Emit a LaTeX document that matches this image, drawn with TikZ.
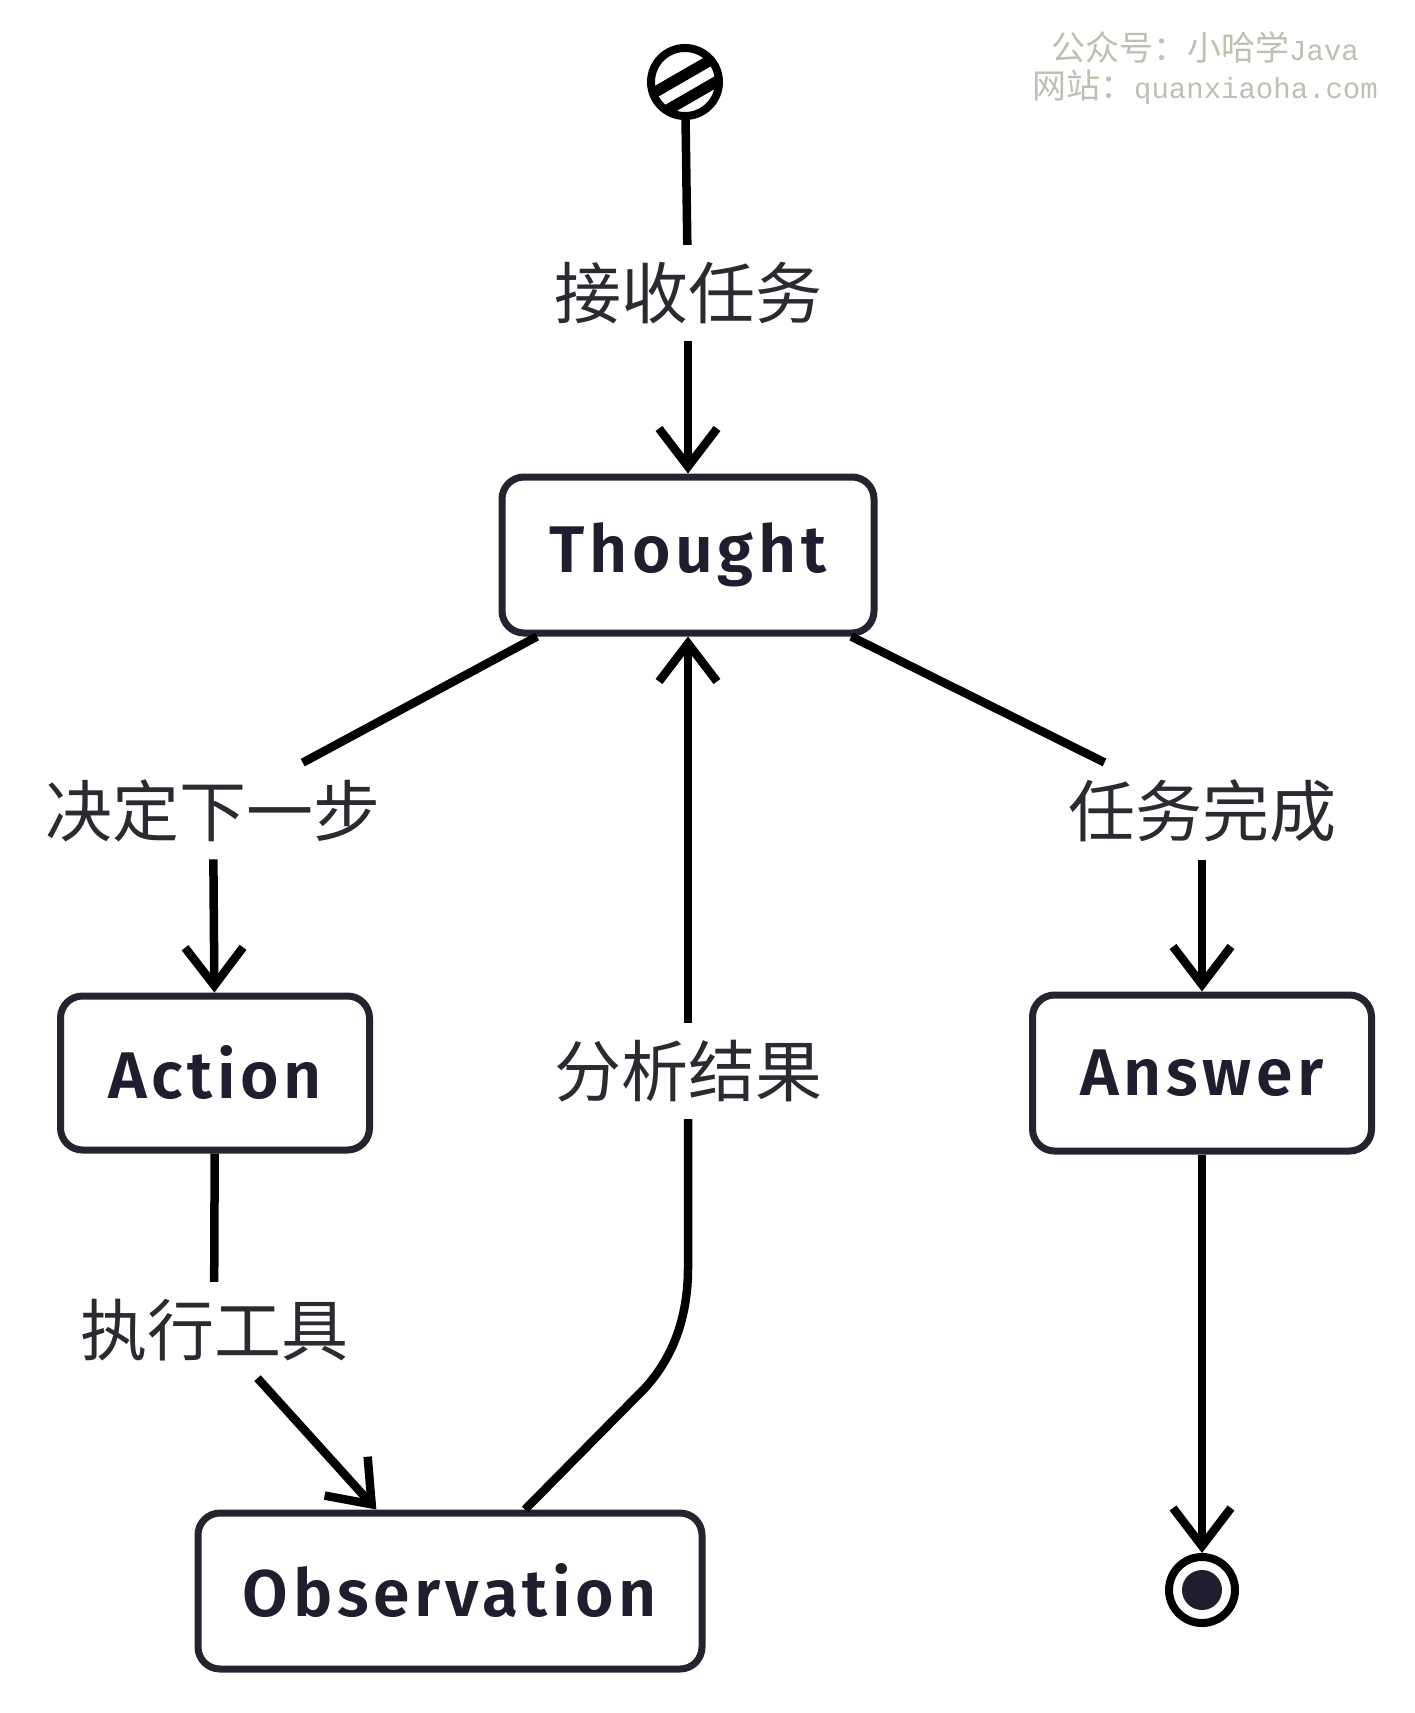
\documentclass[tikz,border=0pt]{standalone}
\usepackage{fontspec}
\usepackage{xcolor}
\usetikzlibrary{arrows.meta}
\newfontfamily\cjkfont{Noto Sans CJK SC}
\newfontfamily\wmlatin{Liberation Mono}
\newfontfamily\boxfont{Fira Sans SemiBold}[LetterSpace=7]
\definecolor{ink}{RGB}{30,30,46}
\definecolor{boxline}{RGB}{37,35,48}
\definecolor{labelgray}{RGB}{42,42,48}
\definecolor{wmgray}{RGB}{190,192,178}
\newcommand{\drawconn}{\draw[line width=8.5pt]}
\newcommand{\drawarrow}{\draw[line width=8.5pt,-{Straight Barb[length=38pt,width=58pt]}]}

\begin{document}
\begin{tikzpicture}[x=1pt,y=-1pt,
    stateBox/.style={draw=boxline,line width=7pt,rounded corners=22pt,fill=white,
      text=ink,font=\boxfont\fontsize{66}{70}\selectfont,inner sep=0pt},
    edgeLabel/.style={text=labelgray,font=\cjkfont\fontsize{67}{70}\selectfont,inner xsep=13pt,inner ysep=17pt}]
\useasboundingbox[fill=white] (0,0) rectangle (1415,1713);

    \node[stateBox,minimum width=372pt,minimum height=156pt] (thought) at (688,555) {Thought};
    \node[stateBox,minimum width=309pt,minimum height=154pt] (action) at (215,1073) {Action};
    \node[stateBox,minimum width=339pt,minimum height=156pt] (answer) at (1202,1073) {Answer};
    \node[stateBox,minimum width=504pt,minimum height=156pt] (obs) at (450,1591) {Observation};

    \node[edgeLabel] (lblTask) at (688,293) {接收任务};
    \node[edgeLabel] (lblNext) at (213,811) {决定下一步};
    \node[edgeLabel] (lblDone) at (1202,811) {任务完成};
    \node[edgeLabel] (lblExec) at (214,1330) {执行工具};
    \node[edgeLabel] (lblResult) at (688,1071) {分析结果};

    \node[circle,draw,line width=8pt,minimum size=68pt,inner sep=0pt,
      path picture={\foreach \p in {{-35pt,-38pt},{-47pt,-20pt}}
        \draw[line width=11pt] ([shift={(\p)}]path picture bounding box.center) -- ++(86.6pt,50pt);}] (start) at (685,82) {};
    \node[circle,draw,line width=8pt,minimum size=66pt,inner sep=0pt] (finish) at (1202,1590) {};
    \fill[ink] (finish.center) circle (20pt);

    \coordinate (bend) at (645,1388);
    \coordinate (bendTop) at (688,1268);

    \drawconn (start) -- (lblTask);
    \drawarrow (lblTask) -- (thought);
    \drawconn (thought) -- (lblNext);
    \drawconn (thought) -- (lblDone);
    \drawarrow (lblNext) -- (action);
    \drawarrow (lblDone) -- (answer);
    \drawconn (action) -- (lblExec);
    \drawarrow (lblExec) -- (obs);
    \drawconn ([xshift=75pt]obs.north) -- (bend) .. controls (676,1354) and (688,1312) .. (bendTop) -- (lblResult);
    \drawarrow (lblResult) -- (thought);
    \drawarrow (answer) -- (finish);

    \node[text=wmgray,font=\cjkfont\fontsize{34}{38}\selectfont,align=center] (wm) at (1205,68)
      {公众号：小哈学{\wmlatin\fontsize{29}{38}\selectfont Java}\\网站：{\wmlatin\fontsize{29}{38}\selectfont quanxiaoha.com}};
\end{tikzpicture}
\end{document}
